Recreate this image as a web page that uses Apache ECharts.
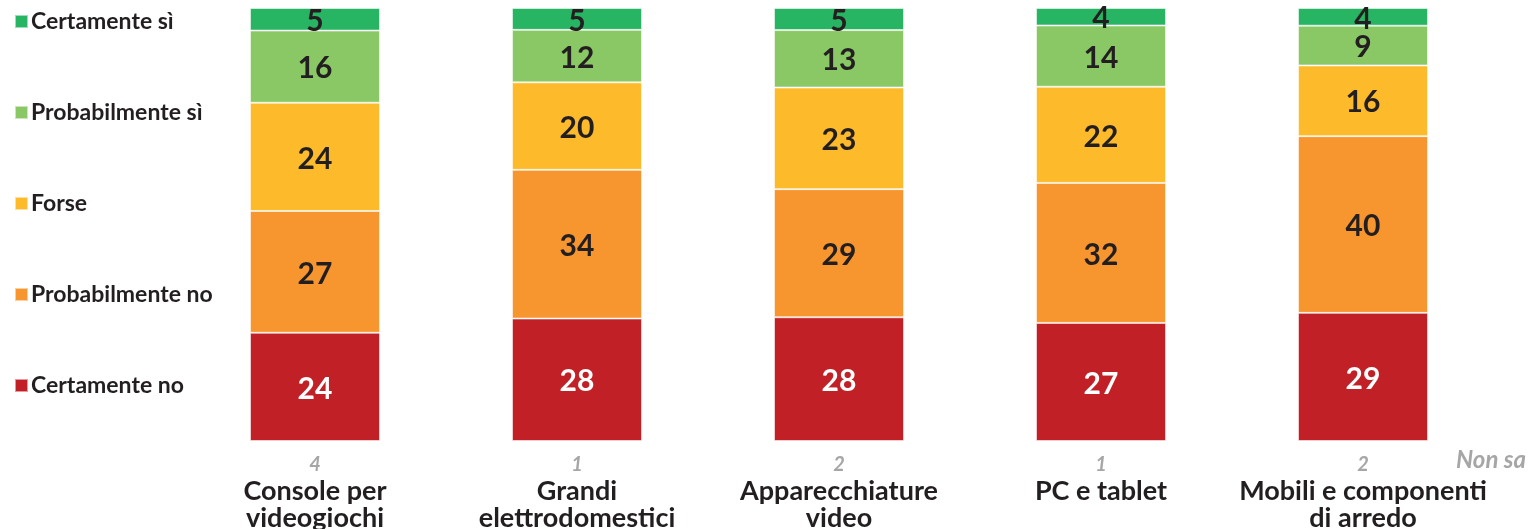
<!DOCTYPE html>
<html>
<head>
<meta charset="utf-8">
<script src="https://cdn.jsdelivr.net/npm/echarts@6/dist/echarts.min.js"></script>
<style>
  html, body { margin: 0; padding: 0; background: #fff; }
  #chart { width: 1529px; height: 529px; }
</style>
</head>
<body>
<div id="chart"></div>
<script>
// Product categories (x axis)
const categories = [
  'Console per\nvideogiochi',
  'Grandi\nelettrodomestici',
  'Apparecchiature\nvideo',
  'PC e tablet',
  'Mobili e componenti\ndi arredo'
];

// Answer shares, percent, per category
const certamenteNo     = [24, 28, 28, 27, 29];
const probabilmenteNo  = [27, 34, 29, 32, 40];
const forse            = [24, 20, 23, 22, 16];
const probabilmenteSi  = [16, 12, 13, 14, 9];
const certamenteSi     = [5, 5, 5, 4, 4];
const nonSa            = [4, 1, 2, 1, 2];

const seriesDefs = [
  { name: 'Certamente no',    values: certamenteNo,    color: '#c02026', text: '#ffffff' },
  { name: 'Probabilmente no', values: probabilmenteNo, color: '#f7962f', text: '#231f20' },
  { name: 'Forse',            values: forse,           color: '#fdba2b', text: '#231f20' },
  { name: 'Probabilmente sì', values: probabilmenteSi, color: '#8ac866', text: '#231f20' },
  { name: 'Certamente sì',    values: certamenteSi,    color: '#27b463', text: '#231f20' }
];

// Each column fills the full height: shares are scaled to the answers that were given
const totals = categories.map((_, i) =>
  seriesDefs.reduce((s, d) => s + d.values[i], 0));

const chart = echarts.init(document.getElementById('chart'));

chart.setOption({
  animation: false,
  textStyle: { fontFamily: 'Lato' },
  legend: {
    orient: 'vertical',
    left: 9,
    top: 4,
    itemWidth: 13,
    itemHeight: 13,
    itemGap: 66,
    icon: 'rect',
    data: ['Certamente sì', 'Probabilmente sì', 'Forse', 'Probabilmente no', 'Certamente no'],
    textStyle: { fontFamily: 'Lato', fontWeight: 'bold', fontSize: 23, color: '#231f20', lineHeight: 25, padding: [0, 0, 0, -2] }
  },
  grid: { left: 184, right: 35, top: 8, bottom: 88, outerBoundsMode: 'none' },
  xAxis: {
    type: 'category',
    data: categories,
    axisLine: { show: false },
    axisTick: { show: false },
    axisLabel: {
      margin: 11,
      interval: 0,
      formatter: (val, idx) => {
        const lines = val.split('\n').map(l => '{c|' + l + '}').join('\n');
        return '{n|' + nonSa[idx] + '}\n' + lines;
      },
      rich: {
        n: { fontFamily: 'Lato', fontSize: 20, fontWeight: 'bold', fontStyle: 'italic', color: '#a6a6a6', lineHeight: 26 },
        c: { fontFamily: 'Lato', fontSize: 27, fontWeight: 'bold', color: '#231f20', lineHeight: 27 }
      }
    }
  },
  yAxis: { type: 'value', min: 0, max: 100, show: false, splitLine: { show: false } },
  graphic: [{
    type: 'text',
    left: 1456,
    top: 448,
    style: { text: 'Non sa', fontFamily: 'Lato', fontSize: 24, fontWeight: 'bold', fontStyle: 'italic', fill: '#a6a6a6' }
  }],
  series: seriesDefs.map(d => ({
    name: d.name,
    type: 'bar',
    stack: 'tot',
    barWidth: 130,
    itemStyle: { color: d.color, borderColor: 'rgba(255,255,255,0.55)', borderWidth: 1 },
    label: {
      show: true,
      position: 'inside',
      offset: [0, 2],
      fontFamily: 'Lato',
      fontSize: 30,
      fontWeight: 'bold',
      color: d.text,
      formatter: p => d.values[p.dataIndex]
    },
    data: d.values.map((v, i) => v / totals[i] * 100)
  }))
});
</script>
</body>
</html>
